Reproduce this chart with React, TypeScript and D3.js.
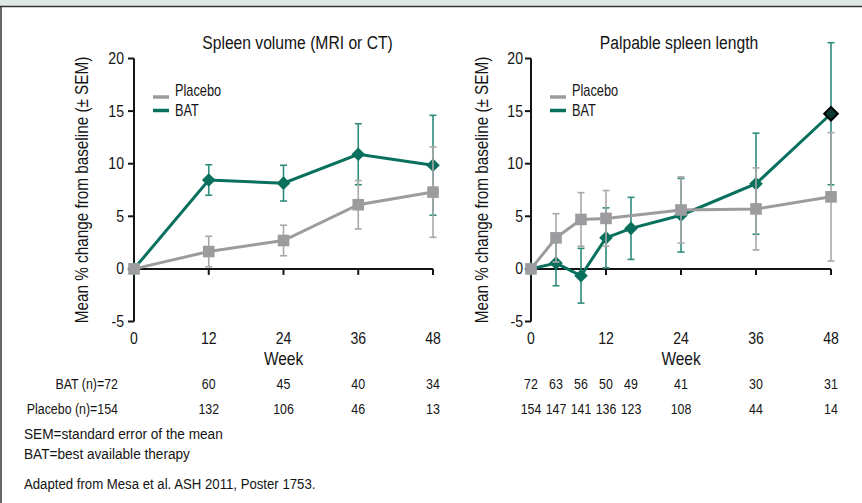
import React from "react";
import * as d3 from "d3";

const W = 862;
const H = 503;

const leftWeeks = [0, 12, 24, 36, 48];
const leftPlacebo = [0, 1.65, 2.7, 6.1, 7.3];
const leftPlaceboErr = [0, 1.45, 1.45, 2.3, 4.3];
const leftBAT = [0, 8.45, 8.15, 10.9, 9.85];
const leftBATErr = [0, 1.45, 1.7, 2.9, 4.75];

const rightWeeks = [0, 4, 8, 12, 16, 24, 36, 48];
const rightPlaceboWeeks = [0, 4, 8, 12, 24, 36, 48];
const rightPlacebo = [0, 2.95, 4.7, 4.8, 5.6, 5.7, 6.85];
const rightPlaceboErr = [0, 2.3, 2.55, 2.65, 3.15, 3.9, 6.1];
const rightBAT = [0, 0.55, -0.65, 2.95, 3.85, 5.1, 8.1, 14.75];
const rightBATErr = [0, 2.15, 2.6, 2.85, 2.95, 3.5, 4.8, 6.75];

const xTicks = [0, 12, 24, 36, 48];
const yTicks = [-5, 0, 5, 10, 15, 20];

const leftNWeeks = [12, 24, 36, 48];
const leftNBAT = ["60", "45", "40", "34"];
const leftNPlacebo = ["132", "106", "46", "13"];
const rightNBAT = ["72", "63", "56", "50", "49", "41", "30", "31"];
const rightNPlacebo = ["154", "147", "141", "136", "123", "108", "44", "14"];

const FONT = "'Liberation Sans', Arial, sans-serif";
const GREEN = "#08705d";
const GREEN_ERR = "#2f8c7b";
const GRAY = "#9c9c9e";
const GRAY_ERR = "#a8a8aa";
const INK = "#141414";

function T({
  x,
  y,
  size,
  sx = 1,
  anchor = "start",
  rotate = 0,
  children,
}: {
  x: number;
  y: number;
  size: number;
  sx?: number;
  anchor?: string;
  rotate?: number;
  children: React.ReactNode;
}) {
  return (
    <text
      transform={`translate(${x},${y})${rotate ? ` rotate(${rotate})` : ""} scale(${sx},1)`}
      textAnchor={anchor}
      fontSize={size}
      fontFamily={FONT}
      fill={INK}
    >
      {children}
    </text>
  );
}

type Panel = {
  x0: number;
  x1: number;
  title: string;
  titleX: number;
  pWeeks: number[];
  p: number[];
  pe: number[];
  bWeeks: number[];
  b: number[];
  be: number[];
  highlightLast: boolean;
  legendX: number;
  ytitleX: number;
  tickGap: number;
};

function Chart({ panel }: { panel: Panel }) {
  const x = d3.scaleLinear().domain([0, 48]).range([panel.x0, panel.x1]);
  const y = d3.scaleLinear().domain([-5, 20]).range([321.5, 58.5]);
  const line = d3
    .line<[number, number]>()
    .x((d) => x(d[0]))
    .y((d) => y(d[1]));
  const pPts: [number, number][] = panel.pWeeks.map((w, i) => [w, panel.p[i]]);
  const bPts: [number, number][] = panel.bWeeks.map((w, i) => [w, panel.b[i]]);
  const cap = 3.5;
  const sq = 5.8;
  const dm = 6.8;
  const diamond = (cx: number, cy: number) =>
    `M${cx},${cy - dm}L${cx + dm},${cy}L${cx},${cy + dm}L${cx - dm},${cy}Z`;

  const errBars = (weeks: number[], vals: number[], errs: number[], color: string) =>
    weeks.map((w, i) =>
      errs[i] > 0 ? (
        <g key={"e" + i} stroke={color} strokeWidth={1.6}>
          <line x1={x(w)} x2={x(w)} y1={y(vals[i] + errs[i])} y2={y(vals[i] - errs[i])} />
          <line x1={x(w) - cap} x2={x(w) + cap} y1={y(vals[i] + errs[i])} y2={y(vals[i] + errs[i])} />
          <line x1={x(w) - cap} x2={x(w) + cap} y1={y(vals[i] - errs[i])} y2={y(vals[i] - errs[i])} />
        </g>
      ) : null
    );

  const nLast = panel.bWeeks.length - 1;

  return (
    <g>
      <T x={panel.titleX} y={49} size={18} sx={0.87} anchor="middle">
        {panel.title}
      </T>
      <T x={panel.ytitleX} y={y(7.5)} size={18} sx={0.85} anchor="middle" rotate={-90}>
        Mean % change from baseline (± SEM)
      </T>
      {/* axes */}
      <line x1={x(0)} x2={x(0)} y1={y(20)} y2={y(-5)} stroke={INK} strokeWidth={2} />
      <line x1={x(0)} x2={x(48)} y1={y(0)} y2={y(0)} stroke={INK} strokeWidth={2} />
      {yTicks.map((t) => (
        <g key={"y" + t}>
          <line x1={x(0) - 6} x2={x(0)} y1={y(t)} y2={y(t)} stroke={INK} strokeWidth={2} />
          <T x={x(0) - panel.tickGap} y={y(t) + 5.5} size={16} sx={0.88} anchor="end">
            {t}
          </T>
        </g>
      ))}
      {xTicks.map((t) => (
        <g key={"x" + t}>
          {t > 0 && (
            <line x1={x(t)} x2={x(t)} y1={y(0)} y2={y(0) + 6} stroke={INK} strokeWidth={2} />
          )}
          <T x={x(t)} y={343.5} size={16} sx={0.88} anchor="middle">
            {t}
          </T>
        </g>
      ))}
      <T x={x(24)} y={364.5} size={18} sx={0.86} anchor="middle">
        Week
      </T>
      {/* legend */}
      <line x1={panel.legendX} x2={panel.legendX + 16} y1={97} y2={97} stroke={GRAY} strokeWidth={3.5} />
      <T x={panel.legendX + 22} y={96} size={16} sx={0.8}>
        Placebo
      </T>
      <line x1={panel.legendX} x2={panel.legendX + 16} y1={110.5} y2={110.5} stroke={GREEN} strokeWidth={3.5} />
      <T x={panel.legendX + 22} y={115.5} size={16} sx={0.8}>
        BAT
      </T>
      {/* BAT */}
      {errBars(panel.bWeeks, panel.b, panel.be, GREEN_ERR)}
      <path d={line(bPts) || ""} fill="none" stroke={GREEN} strokeWidth={3} />
      {panel.bWeeks.map((w, i) =>
        panel.highlightLast && i === nLast ? null : (
          <path key={"b" + i} d={diamond(x(w), y(panel.b[i]))} fill={GREEN} />
        )
      )}
      {/* Placebo */}
      {errBars(panel.pWeeks, panel.p, panel.pe, GRAY_ERR)}
      <path d={line(pPts) || ""} fill="none" stroke={GRAY} strokeWidth={3} />
      {panel.pWeeks.map((w, i) => (
        <rect
          key={"p" + i}
          x={x(w) - sq}
          y={y(panel.p[i]) - sq}
          width={sq * 2}
          height={sq * 2}
          fill={GRAY}
        />
      ))}
      {panel.highlightLast && (
        <path
          d={diamond(x(panel.bWeeks[nLast]), y(panel.b[nLast]))}
          fill="#0d3b33"
          stroke="#000"
          strokeWidth={2}
        />
      )}
    </g>
  );
}

export default function App() {
  const left: Panel = {
    x0: 134,
    x1: 433,
    title: "Spleen volume (MRI or CT)",
    titleX: 297.5,
    pWeeks: leftWeeks,
    p: leftPlacebo,
    pe: leftPlaceboErr,
    bWeeks: leftWeeks,
    b: leftBAT,
    be: leftBATErr,
    highlightLast: false,
    legendX: 153,
    ytitleX: 88,
    tickGap: 10,
  };
  const right: Panel = {
    x0: 531,
    x1: 831,
    title: "Palpable spleen length",
    titleX: 679,
    pWeeks: rightPlaceboWeeks,
    p: rightPlacebo,
    pe: rightPlaceboErr,
    bWeeks: rightWeeks,
    b: rightBAT,
    be: rightBATErr,
    highlightLast: true,
    legendX: 550,
    ytitleX: 488,
    tickGap: 8,
  };
  const xl = d3.scaleLinear().domain([0, 48]).range([134, 433]);
  const xr = d3.scaleLinear().domain([0, 48]).range([531, 831]);
  return (
    <div style={{ position: "fixed", left: 0, top: 0 }}>
      <svg width={W} height={H} style={{ display: "block", background: "#fff" }}>
        <rect x={0} y={0} width={W} height={6} fill="#dbe8e4" />
        <line x1={0} x2={W} y1={6.5} y2={6.5} stroke="#333" strokeWidth={1.5} />
        <line x1={1} x2={1} y1={6} y2={H} stroke="#333" strokeWidth={1.5} />
        <Chart panel={left} />
        <Chart panel={right} />
        <T x={118} y={389} size={15.5} sx={0.8} anchor="end">BAT (n)=72</T>
        <T x={118} y={414} size={15.5} sx={0.8} anchor="end">Placebo (n)=154</T>
        {leftNWeeks.map((w, i) => (
          <g key={"ln" + i}>
            <T x={xl(w)} y={389} size={15.5} sx={0.8} anchor="middle">{leftNBAT[i]}</T>
            <T x={xl(w)} y={414} size={15.5} sx={0.8} anchor="middle">{leftNPlacebo[i]}</T>
          </g>
        ))}
        {rightWeeks.map((w, i) => (
          <g key={"rn" + i}>
            <T x={xr(w)} y={389} size={15.5} sx={0.8} anchor="middle">{rightNBAT[i]}</T>
            <T x={xr(w)} y={414} size={15.5} sx={0.8} anchor="middle">{rightNPlacebo[i]}</T>
          </g>
        ))}
        <T x={24} y={439} size={15.5} sx={0.88}>SEM=standard error of the mean</T>
        <T x={24} y={459} size={15.5} sx={0.88}>BAT=best available therapy</T>
        <T x={24} y={489} size={15} sx={0.88}>Adapted from Mesa et al. ASH 2011, Poster 1753.</T>
      </svg>
    </div>
  );
}
